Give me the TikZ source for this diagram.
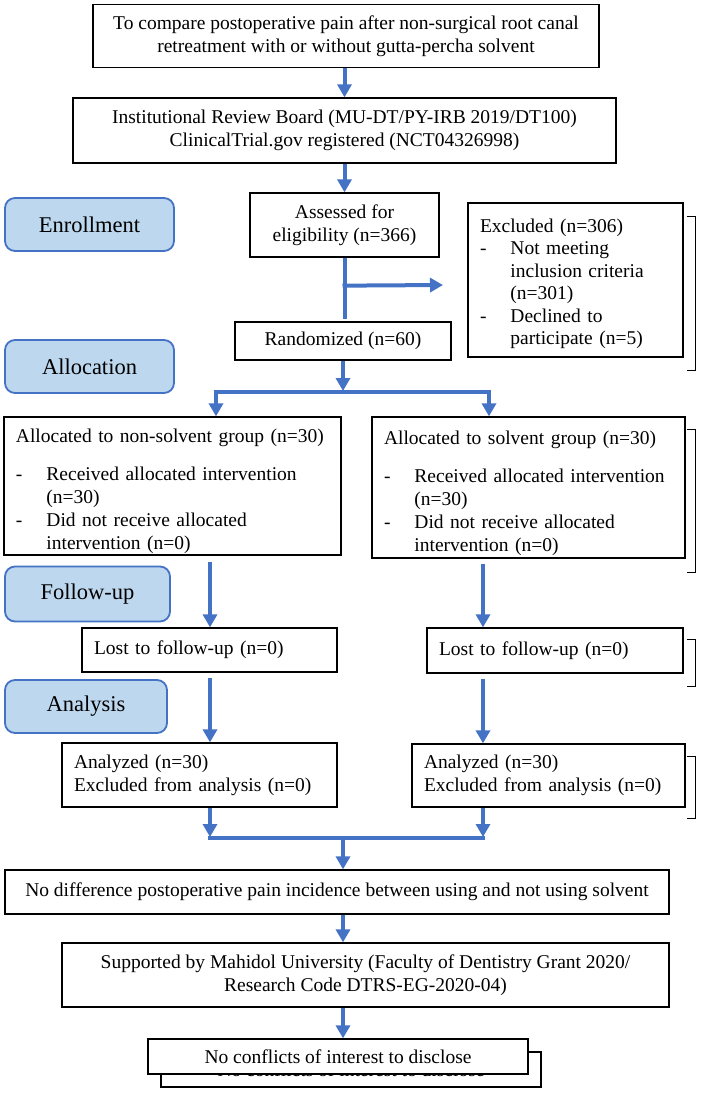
\documentclass[tikz,border=0pt]{standalone}
\usepackage{fontspec}
\setmainfont{Liberation Serif}
\usepackage{tikz}
\usetikzlibrary{arrows.meta, positioning, calc}
\definecolor{flowblue}{RGB}{68,114,196}
\definecolor{stagefill}{RGB}{189,215,238}

\begin{document}
\begin{tikzpicture}[x=1pt, y=-1pt,
  font=\fontsize{19.5}{23}\selectfont,
  box/.style={draw, line width=1.3pt, fill=white, inner sep=0pt, align=center},
  lbox/.style={box, align=left, inner xsep=12pt},
  stage/.style={draw=flowblue, fill=stagefill, line width=1.8pt, rounded corners=10pt,
    minimum height=53pt, font=\fontsize{22.5}{26}\selectfont},
  flow/.style={draw=flowblue, line width=4pt, -{Triangle[length=13pt, width=14pt]}},
  fork/.style={draw=flowblue, line width=4pt,
    {Triangle[length=13pt, width=14pt]}-{Triangle[length=13pt, width=14pt]}},
  link/.style={draw=flowblue, line width=4pt},
  ghost/.style={draw, line width=1.3pt}]
\useasboundingbox (0,0) rectangle (706,1101);

% Top boxes
\node[box, minimum width=506pt, minimum height=63pt] (aim) at (346,36) {To compare postoperative pain after non-surgical root canal\\retreatment with or without gutta-percha solvent};
\node[box, minimum width=543pt, minimum height=65pt] (irb) at (344.5,130.5) {Institutional Review Board (MU-DT/PY-IRB 2019/DT100)\\ClinicalTrial.gov registered (NCT04326998)};

% Stage labels
\node[stage, minimum width=169pt] (enroll) at (89.5,224.5) {Enrollment};
\node[stage, minimum width=169pt] (alloc) at (89.5,366.5) {Allocation};
\node[stage, minimum width=165pt, minimum height=55pt] (follow) at (87.5,594) {Follow-up};
\node[stage, minimum width=162pt] (analysis) at (86,706.5) {Analysis};

% Enrollment
\node[box, minimum width=189pt, minimum height=64pt] (assess) at (344.5,225) {Assessed for\\eligibility (n=366)};
\node[lbox, text width=191pt, minimum height=154pt] (excl) at (575.5,280) {%
\raisebox{-4pt}[\height][\depth]{\renewcommand{\arraystretch}{0.98}%
\begin{tabular}{@{}l@{\hspace{24pt}}l@{}}
\multicolumn{2}{@{}l@{}}{Excluded (n=306)}\\
- & Not meeting\\
  & inclusion criteria\\
  & (n=301)\\
- & Declined to\\
  & participate (n=5)
\end{tabular}}};
\node[box, minimum width=216pt, minimum height=38pt] (rand) at (343,341) {Randomized (n=60)};

% Allocation
\node[lbox, text width=313pt, minimum height=138pt] (nonsolv) at (172.5,486) {%
\raisebox{-5.5pt}[\height][\depth]{%
\begin{tabular}{@{}l@{\hspace{24pt}}l@{}}
\multicolumn{2}{@{}l@{}}{Allocated to non-solvent group (n=30)}\\[15pt]
- & Received allocated intervention\\
  & (n=30)\\
- & Did not receive allocated\\
  & intervention (n=0)
\end{tabular}}};
\node[lbox, text width=289pt, minimum height=141pt] (solv) at (528.5,487.5) {%
\raisebox{-5.5pt}[\height][\depth]{%
\begin{tabular}{@{}l@{\hspace{24pt}}l@{}}
\multicolumn{2}{@{}l@{}}{Allocated to solvent group (n=30)}\\[15pt]
- & Received allocated intervention\\
  & (n=30)\\
- & Did not receive allocated\\
  & intervention (n=0)
\end{tabular}}};

% Follow-up
\node[lbox, text width=231pt, minimum height=44pt] (lostL) at (209.5,650) {Lost to follow-up (n=0)};
\node[lbox, text width=232pt, minimum height=45pt] (lostR) at (555,650.5) {Lost to follow-up (n=0)};

% Analysis
\node[lbox, text width=251pt, minimum height=64pt] (anaL) at (199.5,775) {Analyzed (n=30)\\Excluded from analysis (n=0)};
\node[lbox, text width=249pt, minimum height=63pt] (anaR) at (548.5,775.5) {Analyzed (n=30)\\Excluded from analysis (n=0)};

% Bottom boxes
\node[box, minimum width=664pt, minimum height=44pt] (nodiff) at (337,892) {No difference postoperative pain incidence between using and not using solvent};
\node[box, minimum width=607pt, minimum height=64pt] (support) at (365.5,975) {Supported by Mahidol University (Faculty of Dentistry Grant 2020/\\Research Code DTRS-EG-2020-04)};
\node[box, minimum width=380pt, minimum height=35pt] (ghostbox) at (351,1069.5) {No conflicts of interest to disclose};
\node[box, minimum width=380pt, minimum height=35pt] (conflict) at (338,1056.5) {No conflicts of interest to disclose};

% Brackets on the right
\draw[ghost] ($(excl.north east)+(3,14)$) -| ($(excl.south east)+(12,13)$) -- ++(-9,0);
\draw[ghost] ($(solv.north east)+(1,13)$) -| ($(solv.south east)+(10,14)$) -- ++(-9,0);
\draw[ghost] ($(lostR.north east)+(3,12)$) -| ($(lostR.south east)+(12,13)$) -- ++(-9,0);
\draw[ghost] ($(anaR.north east)+(1,13)$) -| ($(anaR.south east)+(10,11)$) -- ++(-9,0);

% Connectors
\coordinate (colL) at (210,0);
\coordinate (colR) at (483,0);
\coordinate (mid) at (343,0);
\coordinate (branch) at ($(assess.south)+(0,28)$);
\coordinate (exclin) at (443,285);
\coordinate (splitL) at (216,392);
\coordinate (splitR) at (489,392);
\coordinate (mergeL) at (210,838);
\coordinate (mergeR) at (483,838);

\draw[flow] (aim.south -| irb.north) -- (irb.north);
\draw[flow] (irb.south) -- (assess.north);
\draw[link] (assess.south) -- ($(assess.south |- rand.north)+(0,-2)$);
\draw[flow] ($(branch)+(-2,0)$) -- (exclin);
\draw[flow] (rand.south) -- ($(rand.south |- splitL)+(0,-1)$);
\draw[fork] (splitL |- nonsolv.north) |- (splitR) -- (splitR |- solv.north);
\draw[flow] ($(colL |- nonsolv.south)+(0,6)$) -- (colL |- lostL.north);
\draw[flow] ($(colR |- solv.south)+(0,5)$) -- (colR |- lostR.north);
\draw[flow] ($(colL |- lostL.south)+(0,5)$) -- (colL |- anaL.north);
\draw[flow] ($(colR |- lostR.south)+(0,5)$) -- (colR |- anaR.north);
\draw[flow] (colL |- anaL.south) -- ($(mergeL)+(0,-1)$);
\draw[flow] (colR |- anaR.south) -- ($(mergeR)+(0,-1)$);
\draw[link] ($(mergeL)+(-2,0)$) -- ($(mergeR)+(2,0)$);
\draw[flow] (mid |- mergeL) -- (mid |- nodiff.north);
\draw[flow] (mid |- nodiff.south) -- (mid |- support.north);
\draw[flow] (mid |- support.south) -- (mid |- conflict.north);
\end{tikzpicture}
\end{document}
